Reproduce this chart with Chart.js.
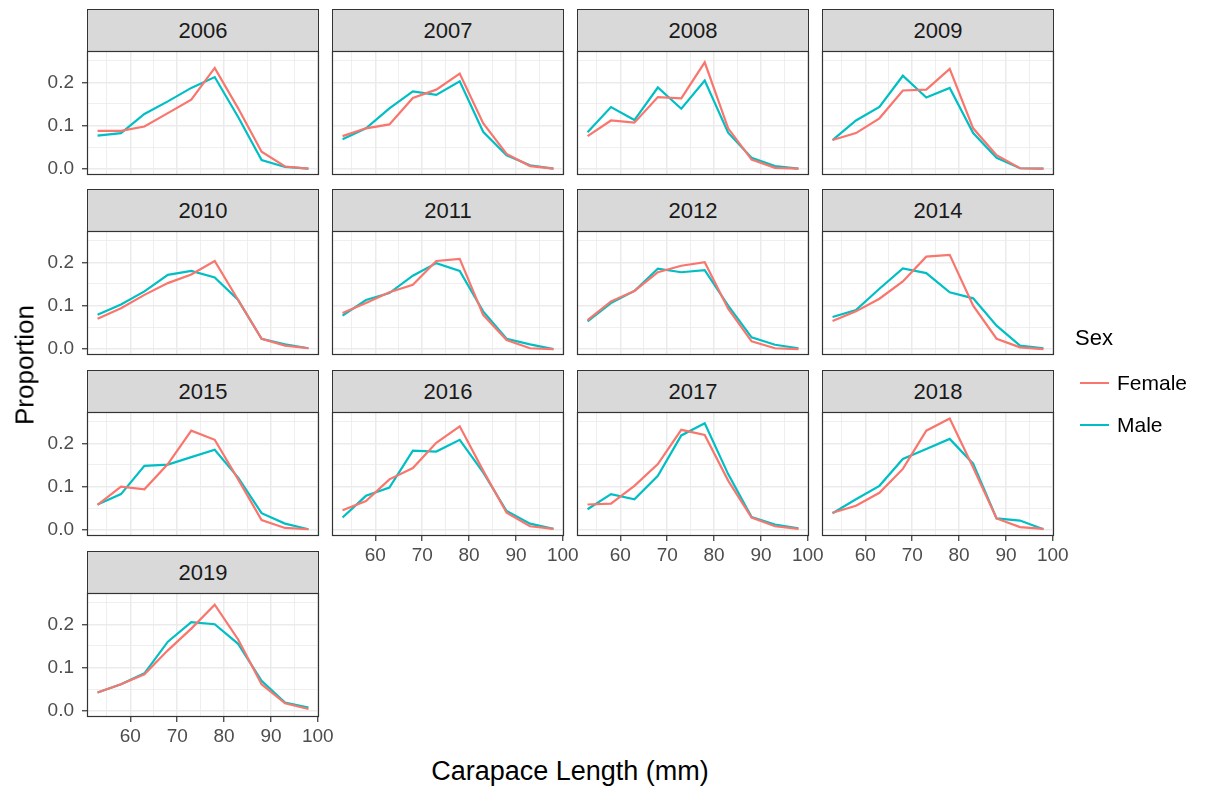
<!DOCTYPE html>
<html><head><meta charset="utf-8">
<script src="https://cdn.jsdelivr.net/npm/chart.js@4/dist/chart.umd.min.js"></script>
<style>
body{margin:0;background:#fff;width:1228px;height:788px;overflow:hidden;position:relative;font-family:"Liberation Sans",Arial,sans-serif;}
.strip{position:absolute;background:#D9D9D9;border:1px solid #333;box-sizing:border-box;text-align:center;color:#1A1A1A;font-size:22px;}
.txt{position:absolute;white-space:nowrap;color:#000;}
canvas{position:absolute;}
</style></head><body>
<div id="root"></div>
<script>
// ---- data ----
const lengths = [53, 58, 63, 68, 73, 78, 83, 88, 93, 98];
const years = ['2006','2007','2008','2009','2010','2011','2012','2014','2015','2016','2017','2018','2019'];
const seriesNames = ['Female', 'Male'];
const xMajorTicks = [60, 70, 80, 90, 100];
const xMinorTicks = [55, 65, 75, 85, 95];
const yMajorTicks = [0, 0.1, 0.2];
const yMinorTicks = [0.05, 0.15, 0.25];

const female2006 = [0.088, 0.088, 0.098, 0.129, 0.160, 0.233, 0.140, 0.040, 0.006, 0.001];
const male2006   = [0.077, 0.083, 0.127, 0.156, 0.187, 0.212, 0.120, 0.021, 0.005, 0.001];
const female2007 = [0.076, 0.094, 0.103, 0.164, 0.183, 0.220, 0.106, 0.035, 0.007, 0.001];
const male2007   = [0.069, 0.094, 0.140, 0.179, 0.171, 0.202, 0.086, 0.032, 0.009, 0.001];
const female2008 = [0.076, 0.112, 0.107, 0.166, 0.163, 0.246, 0.094, 0.022, 0.003, 0.001];
const male2008   = [0.085, 0.143, 0.113, 0.188, 0.139, 0.204, 0.084, 0.026, 0.007, 0.001];
const female2009 = [0.067, 0.083, 0.117, 0.181, 0.183, 0.231, 0.094, 0.032, 0.002, 0.001];
const male2009   = [0.067, 0.112, 0.143, 0.215, 0.165, 0.187, 0.083, 0.026, 0.002, 0.001];
const female2010 = [0.070, 0.094, 0.125, 0.152, 0.172, 0.203, 0.113, 0.024, 0.008, 0.002];
const male2010   = [0.079, 0.103, 0.133, 0.171, 0.180, 0.165, 0.113, 0.024, 0.011, 0.002];
const female2011 = [0.083, 0.106, 0.131, 0.148, 0.203, 0.208, 0.079, 0.021, 0.002, 0.000];
const male2011   = [0.077, 0.113, 0.129, 0.169, 0.198, 0.180, 0.087, 0.024, 0.011, 0.000];
const female2012 = [0.067, 0.110, 0.134, 0.177, 0.192, 0.200, 0.093, 0.018, 0.002, 0.000];
const male2012   = [0.064, 0.106, 0.134, 0.185, 0.177, 0.182, 0.100, 0.027, 0.010, 0.002];
const female2014 = [0.065, 0.087, 0.116, 0.156, 0.213, 0.217, 0.100, 0.024, 0.004, 0.000];
const male2014   = [0.074, 0.090, 0.139, 0.186, 0.175, 0.131, 0.117, 0.054, 0.008, 0.002];
const female2015 = [0.058, 0.100, 0.094, 0.152, 0.229, 0.208, 0.117, 0.023, 0.005, 0.002];
const male2015   = [0.059, 0.083, 0.148, 0.151, 0.168, 0.185, 0.121, 0.039, 0.015, 0.002];
const female2016 = [0.046, 0.067, 0.117, 0.143, 0.201, 0.239, 0.137, 0.040, 0.009, 0.003];
const male2016   = [0.029, 0.079, 0.098, 0.183, 0.181, 0.208, 0.133, 0.044, 0.015, 0.003];
const female2017 = [0.059, 0.061, 0.102, 0.152, 0.231, 0.219, 0.114, 0.029, 0.009, 0.003];
const male2017   = [0.048, 0.083, 0.071, 0.125, 0.218, 0.246, 0.129, 0.030, 0.013, 0.004];
const female2018 = [0.040, 0.056, 0.086, 0.141, 0.229, 0.257, 0.144, 0.027, 0.007, 0.003];
const male2018   = [0.039, 0.071, 0.102, 0.164, 0.187, 0.210, 0.153, 0.027, 0.022, 0.002];
const female2019 = [0.043, 0.062, 0.085, 0.140, 0.190, 0.245, 0.165, 0.062, 0.018, 0.005];
const male2019   = [0.043, 0.062, 0.087, 0.160, 0.205, 0.200, 0.155, 0.070, 0.020, 0.008];

const femaleByYear = {'2006':female2006,'2007':female2007,'2008':female2008,'2009':female2009,'2010':female2010,'2011':female2011,'2012':female2012,'2014':female2014,'2015':female2015,'2016':female2016,'2017':female2017,'2018':female2018,'2019':female2019};
const maleByYear = {'2006':male2006,'2007':male2007,'2008':male2008,'2009':male2009,'2010':male2010,'2011':male2011,'2012':male2012,'2014':male2014,'2015':male2015,'2016':male2016,'2017':male2017,'2018':male2018,'2019':male2019};

// ---- layout ----
const FONT = '"Liberation Sans", Arial, sans-serif';
const colors = {Female:'#F8766D', Male:'#00BFC4'};
const colLeft = [87, 332, 577, 822];
const panelW = 232;
const panelBottom = [175, 355, 536, 717];
const panelH = 124;
const stripH = 42;
const yAxisW = 58;
const xAxisH = 36;
const M = 24;   // canvas margin around the panel (transparent, may overlap neighbours)
const nCols = 4;

const root = document.getElementById('root');
const isMajorX = v => xMajorTicks.includes(v);
const isMajorY = v => yMajorTicks.some(t => Math.abs(t - v) < 1e-9);

const borderPlugin = {
  id:'panelBorder',
  afterDraw(chart){
    const a = chart.chartArea, c = chart.ctx;
    c.save(); c.strokeStyle = '#333333'; c.lineWidth = 1.2;
    c.strokeRect(Math.round(a.left)+0.5, Math.round(a.top)+0.5, Math.round(a.right-a.left)-1, Math.round(a.bottom-a.top)-1);
    c.restore();
  }
};

years.forEach((yr, i) => {
  const row = Math.floor(i / nCols), col = i % nCols;
  const showY = col === 0;
  const showX = (i + nCols) >= years.length;
  const yW = showY ? yAxisW : 0;
  const xH = showX ? xAxisH : 0;
  const pLeft = colLeft[col];
  const pTop = panelBottom[row] - panelH;

  const strip = document.createElement('div');
  strip.className = 'strip';
  strip.style.left = pLeft + 'px';
  strip.style.top = (pTop - stripH) + 'px';
  strip.style.width = panelW + 'px';
  strip.style.height = (stripH + 1) + 'px';
  strip.style.lineHeight = (stripH - 1) + 'px';
  strip.textContent = yr;
  root.appendChild(strip);

  const cv = document.createElement('canvas');
  const w = panelW + 2*M + yW, h = panelH + 2*M + xH;
  cv.width = w; cv.height = h;
  cv.style.width = w + 'px'; cv.style.height = h + 'px';
  cv.style.left = (pLeft - M - yW) + 'px';
  cv.style.top = (pTop - M) + 'px';
  root.appendChild(cv);

  new Chart(cv, {
    type:'line',
    data:{
      datasets:[
        {label:seriesNames[0], data: lengths.map((x,k)=>({x, y: femaleByYear[yr][k]})), borderColor:colors.Female, backgroundColor:colors.Female},
        {label:seriesNames[1], data: lengths.map((x,k)=>({x, y: maleByYear[yr][k]})), borderColor:colors.Male, backgroundColor:colors.Male}
      ]
    },
    options:{
      responsive:false, animation:false, devicePixelRatio:1,
      layout:{padding:M},
      plugins:{legend:{display:false}, tooltip:{enabled:false}},
      elements:{point:{radius:0}, line:{borderWidth:2.2, tension:0}},
      scales:{
        x:{
          type:'linear', min:50.75, max:100.25,
          afterBuildTicks: s => { s.ticks = xMinorTicks.concat(xMajorTicks).sort((a,b)=>a-b).map(v=>({value:v})); },
          afterFit: s => { s.height = xH; s.paddingLeft = 0; s.paddingRight = 0; },
          border:{display:false},
          grid:{
            color:'#EBEBEB',
            lineWidth: c => (c.tick && isMajorX(c.tick.value)) ? 1.5 : 0.8,
            drawTicks: showX, tickLength:5, tickWidth:1.2,
            tickColor: c => (c.tick && isMajorX(c.tick.value)) ? '#333333' : 'rgba(0,0,0,0)'
          },
          ticks:{display:showX, autoSkip:false, maxRotation:0, padding:3, color:'#4D4D4D', font:{size:19, family:FONT},
            callback: v => isMajorX(v) ? String(v) : ''}
        },
        y:{
          type:'linear', min:-0.0135, max:0.272,
          afterBuildTicks: s => { s.ticks = yMajorTicks.concat(yMinorTicks).sort((a,b)=>a-b).map(v=>({value:v})); },
          afterFit: s => { s.width = yW; s.paddingTop = 0; s.paddingBottom = 0; },
          border:{display:false},
          grid:{
            color:'#EBEBEB',
            lineWidth: c => (c.tick && isMajorY(c.tick.value)) ? 1.5 : 0.8,
            drawTicks: showY, tickLength:5, tickWidth:1.2,
            tickColor: c => (c.tick && isMajorY(c.tick.value)) ? '#333333' : 'rgba(0,0,0,0)'
          },
          ticks:{display:showY, autoSkip:false, padding:8, color:'#4D4D4D', font:{size:19, family:FONT},
            callback: v => isMajorY(v) ? v.toFixed(1) : ''}
        }
      }
    },
    plugins:[borderPlugin]
  });
});

function addText(txt, left, top, size, extra){
  const d = document.createElement('div');
  d.className = 'txt'; d.textContent = txt;
  d.style.left = left + 'px'; d.style.top = top + 'px'; d.style.fontSize = size + 'px';
  if (extra) Object.assign(d.style, extra);
  root.appendChild(d);
  return d;
}
addText('Carapace Length (mm)', 570, 771, 27, {transform:'translate(-50%,-50%)'});
addText('Proportion', 25, 365, 26, {transform:'translate(-50%,-50%) rotate(-90deg)'});

// legend
addText('Sex', 1075, 338, 22, {transform:'translateY(-50%)'});
seriesNames.forEach((s, k) => {
  const y = 383 + k*42;
  const ln = document.createElement('div');
  ln.style.position='absolute'; ln.style.left='1080px'; ln.style.width='29px'; ln.style.top=(y-1)+'px'; ln.style.height='2px'; ln.style.background=colors[s];
  root.appendChild(ln);
  addText(s, 1117, y, 21, {transform:'translateY(-50%)', color:'#000'});
});
</script>
</body></html>
